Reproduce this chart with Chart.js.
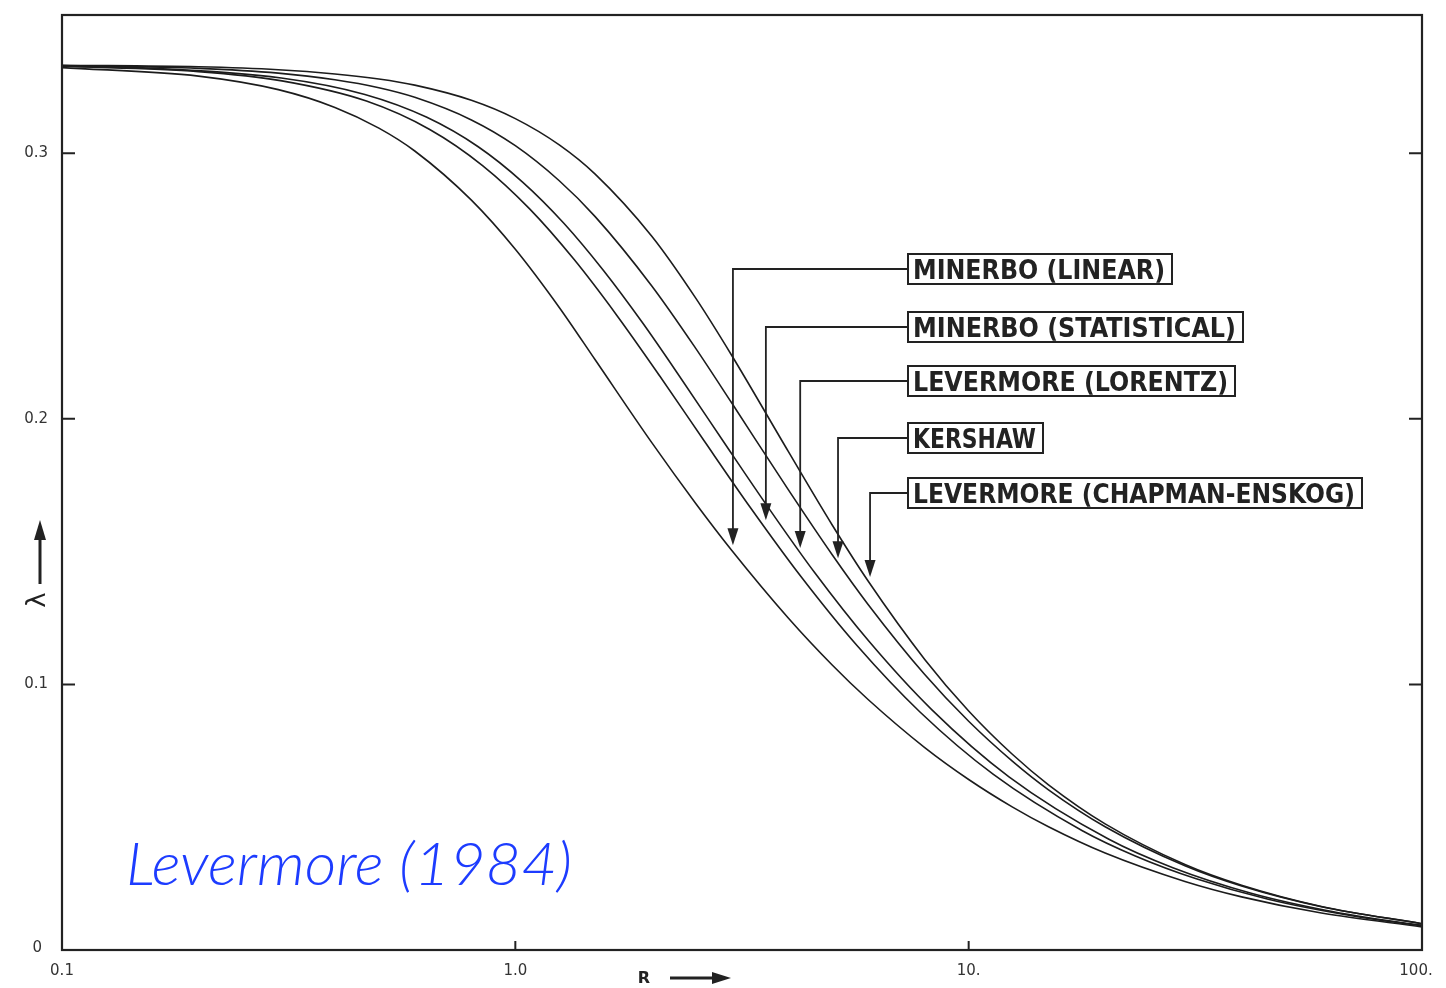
<!DOCTYPE html>
<html><head><meta charset="utf-8">
<script src="https://cdn.jsdelivr.net/npm/chart.js@4"></script>
<style>html,body{margin:0;padding:0;background:#fff;}canvas{display:block;}</style>
</head><body>
<canvas id="c" width="1446" height="988"></canvas>
<script>
// Shared R grid for three of the curves
const rGrid = [0.1, 0.2, 0.3, 0.4, 0.5, 0.6, 0.8, 1, 1.25, 1.5, 2, 2.5, 3, 4, 5, 6, 8, 10, 12.5, 15, 20, 30, 40, 60, 100];
const minerboLinear = [0.3322, 0.3290, 0.3239, 0.3172, 0.3094, 0.3008, 0.2823, 0.2638, 0.2419, 0.2222, 0.1910, 0.1681, 0.1505, 0.1250, 0.1073, 0.0943, 0.0762, 0.0642, 0.0538, 0.0464, 0.0365, 0.0258, 0.0200, 0.0139, 0.0087];
const kershaw = [0.3330, 0.3319, 0.3301, 0.3276, 0.3246, 0.3210, 0.3125, 0.3028, 0.2896, 0.2761, 0.2500, 0.2265, 0.2060, 0.1733, 0.1488, 0.1301, 0.1037, 0.0861, 0.0710, 0.0603, 0.0464, 0.0317, 0.0241, 0.0163, 0.0099];
const levermoreCE = [0.3331, 0.3325, 0.3314, 0.3298, 0.3279, 0.3256, 0.3199, 0.3130, 0.3031, 0.2921, 0.2687, 0.2454, 0.2239, 0.1877, 0.1600, 0.1389, 0.1094, 0.0900, 0.0736, 0.0622, 0.0475, 0.0322, 0.0244, 0.0164, 0.0099];
// Own R samples for the other two curves
const rStatistical = [0.1, 0.2, 0.3056, 0.4694, 0.6474, 0.8466, 1.0754, 1.3455, 1.6734, 2.0825, 2.6087, 3.3082, 4.2743, 5.671, 7.809, 11.339, 17.815, 23.31, 31.773, 45.79, 71.58, 99.08, 111.85];
const minerboStatistical = [0.3327, 0.3307, 0.3272, 0.3196, 0.3089, 0.2953, 0.2790, 0.2601, 0.2390, 0.2161, 0.1917, 0.1663, 0.1404, 0.1146, 0.0896, 0.0661, 0.0449, 0.0354, 0.0268, 0.0191, 0.0126, 0.0092, 0.0082];
const rLorentz = [0.1, 0.1506, 0.3046, 0.4657, 0.638, 0.8266, 1.0376, 1.2794, 1.5632, 1.9047, 2.3276, 2.8676, 3.5829, 4.5727, 6.0205, 8.2989, 12.273, 20.385, 28.21, 42.184, 63.4, 93.11, 108.1];
const levermoreLorentz = [0.3328, 0.3321, 0.3283, 0.3221, 0.3135, 0.3025, 0.2891, 0.2736, 0.2559, 0.2363, 0.2148, 0.1918, 0.1675, 0.1421, 0.1163, 0.0904, 0.0652, 0.0417, 0.0310, 0.0213, 0.0145, 0.0100, 0.0087];

const yTicks = [0, 0.1, 0.2, 0.3];
const yTickLabels = ['0', '0.1', '0.2', '0.3'];
const xTicks = [0.1, 1, 10, 100];
const xTickLabels = ['0.1', '1.0', '10.', '100.'];
const labelNames = ['MINERBO (LINEAR)', 'MINERBO (STATISTICAL)', 'LEVERMORE (LORENTZ)', 'KERSHAW', 'LEVERMORE (CHAPMAN-ENSKOG)'];
const arrowR = [3.02, 3.57, 4.25, 5.15, 6.06];
const arrowLambda = [0.1524, 0.1618, 0.1513, 0.1475, 0.1404];

const toPts = (xs, ys) => xs.map((x, i) => ({x: x, y: ys[i]}));
const lineStyle = {showLine: true, borderColor: '#1c1c1c', borderWidth: 1.6, pointRadius: 0, cubicInterpolationMode: 'monotone', fill: false};

const ink = '#222';
const annotPlugin = {
  id: 'annot',
  afterDraw(chart) {
    const ctx = chart.ctx, a = chart.chartArea;
    const xs = chart.scales.x, ys = chart.scales.y;
    ctx.save();
    ctx.strokeStyle = ink; ctx.fillStyle = ink;
    // frame
    ctx.lineWidth = 2.2;
    ctx.strokeRect(a.left, a.top, a.right - a.left, a.bottom - a.top);
    // y ticks (inside, both sides)
    ctx.lineWidth = 2;
    yTicks.forEach(v => {
      if (v === 0) return;
      const y = ys.getPixelForValue(v);
      ctx.beginPath(); ctx.moveTo(a.left, y); ctx.lineTo(a.left + 13, y);
      ctx.moveTo(a.right, y); ctx.lineTo(a.right - 13, y); ctx.stroke();
    });
    // x ticks (inside, bottom)
    xTicks.forEach(v => {
      if (v === xs.min || v === xs.max) return;
      const x = xs.getPixelForValue(v);
      ctx.beginPath(); ctx.moveTo(x, a.bottom); ctx.lineTo(x, a.bottom - 9); ctx.stroke();
    });
    // tick labels
    ctx.font = '15px "DejaVu Sans"';
    ctx.fillStyle = '#333';
    ctx.textBaseline = 'middle';
    ctx.textAlign = 'right';
    yTicks.forEach((v, i) => {
      const y = ys.getPixelForValue(v);
      ctx.fillText(yTickLabels[i], v === 0 ? a.left - 20 : a.left - 14, v === 0 ? y - 2 : y);
    });
    ctx.textAlign = 'center';
    xTicks.forEach((v, i) => {
      let x = xs.getPixelForValue(v);
      if (v === xs.max) x -= 6;
      ctx.fillText(xTickLabels[i], x, a.bottom + 21);
    });
    // axis titles
    ctx.fillStyle = ink;
    ctx.font = 'bold 16px "DejaVu Sans"';
    ctx.fillText('R', 644, a.bottom + 29);
    ctx.lineWidth = 3;
    ctx.beginPath(); ctx.moveTo(670, a.bottom + 28); ctx.lineTo(716, a.bottom + 28); ctx.stroke();
    ctx.beginPath(); ctx.moveTo(731, a.bottom + 28); ctx.lineTo(712, a.bottom + 22); ctx.lineTo(712, a.bottom + 34); ctx.closePath(); ctx.fill();
    ctx.save();
    ctx.translate(38, 600); ctx.rotate(-Math.PI / 2);
    ctx.font = '26px "DejaVu Sans"';
    ctx.fillText('λ', 0, 0);
    ctx.restore();
    ctx.lineWidth = 3;
    ctx.beginPath(); ctx.moveTo(40, 584); ctx.lineTo(40, 536); ctx.stroke();
    ctx.beginPath(); ctx.moveTo(40, 520); ctx.lineTo(34, 540); ctx.lineTo(46, 540); ctx.closePath(); ctx.fill();

    // label boxes with leader arrows
    const boxLeft = 908;
    const boxCY = [269, 327, 381, 438, 493];
    const boxW = [264, 335, 327, 135, 454];
    const boxH = 30;
    labelNames.forEach((name, i) => {
      const cy = boxCY[i];
      ctx.lineWidth = 2;
      ctx.strokeStyle = ink;
      ctx.strokeRect(boxLeft, cy - boxH / 2, boxW[i], boxH);
      ctx.font = 'bold 27px "DejaVu Sans"';
      ctx.textAlign = 'left'; ctx.textBaseline = 'alphabetic';
      const tw = ctx.measureText(name).width;
      const target = boxW[i] - 12;
      ctx.save();
      ctx.translate(boxLeft + 5, cy + 10);
      ctx.scale(target / tw, 1);
      ctx.fillStyle = ink;
      ctx.fillText(name, 0, 0);
      ctx.restore();
      const ax = xs.getPixelForValue(arrowR[i]);
      const ay = ys.getPixelForValue(arrowLambda[i]);
      ctx.lineWidth = 1.8;
      ctx.beginPath(); ctx.moveTo(boxLeft, cy); ctx.lineTo(ax, cy); ctx.lineTo(ax, ay - 12); ctx.stroke();
      ctx.beginPath(); ctx.moveTo(ax, ay); ctx.lineTo(ax - 5.5, ay - 17); ctx.lineTo(ax + 5.5, ay - 17); ctx.closePath(); ctx.fill();
    });

    // blue annotation
    ctx.font = 'italic 300 60px Lato';
    ctx.fillStyle = '#1d3cff';
    ctx.textAlign = 'left'; ctx.textBaseline = 'alphabetic';
    const t = 'Levermore (1984)';
    const w = ctx.measureText(t).width;
    ctx.save();
    ctx.translate(126, 885);
    ctx.scale(446 / w, 1);
    ctx.fillText(t, 0, 0);
    ctx.restore();
    ctx.restore();
  }
};

new Chart(document.getElementById('c'), {
  type: 'scatter',
  data: {
    datasets: [
      Object.assign({label: 'Minerbo (linear)', data: toPts(rGrid, minerboLinear)}, lineStyle),
      Object.assign({label: 'Minerbo (statistical)', data: toPts(rStatistical, minerboStatistical)}, lineStyle),
      Object.assign({label: 'Levermore (Lorentz)', data: toPts(rLorentz, levermoreLorentz)}, lineStyle),
      Object.assign({label: 'Kershaw', data: toPts(rGrid, kershaw)}, lineStyle),
      Object.assign({label: 'Levermore (Chapman-Enskog)', data: toPts(rGrid, levermoreCE)}, lineStyle)
    ]
  },
  options: {
    responsive: false,
    animation: false,
    devicePixelRatio: 1,
    layout: {padding: {left: 62, right: 24, top: 15, bottom: 38}},
    plugins: {legend: {display: false}, tooltip: {enabled: false}},
    scales: {
      x: {type: 'logarithmic', min: 0.1, max: 100, display: false},
      y: {type: 'linear', min: 0, max: 0.352, display: false}
    }
  },
  plugins: [annotPlugin]
});
</script>
</body></html>
